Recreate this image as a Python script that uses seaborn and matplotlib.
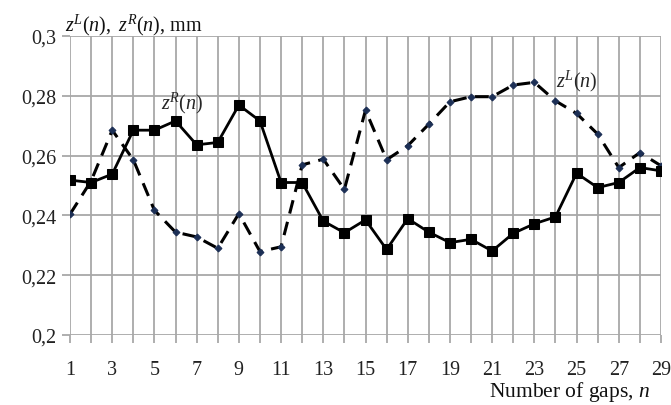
import matplotlib
matplotlib.use("Agg")
import matplotlib.pyplot as plt
import seaborn as sns
import numpy as np
import pandas as pd

n = list(range(1, 30))
z_R = [0.2518, 0.2510, 0.2538, 0.2685, 0.2685, 0.2716, 0.2636, 0.2644, 0.2769, 0.2716,
       0.2510, 0.2510, 0.2381, 0.2342, 0.2385, 0.2286, 0.2389, 0.2344, 0.2309, 0.2320,
       0.2281, 0.2340, 0.2372, 0.2395, 0.2541, 0.2493, 0.2510, 0.2560, 0.2549]
z_L = [0.2404, 0.2515, 0.2685, 0.2586, 0.2417, 0.2344, 0.2328, 0.2290, 0.2406, 0.2279,
       0.2295, 0.2569, 0.2588, 0.2487, 0.2752, 0.2586, 0.2633, 0.2705, 0.2780, 0.2797,
       0.2797, 0.2836, 0.2845, 0.2783, 0.2741, 0.2672, 0.2560, 0.2610, 0.2566]
y_ticks = [0.2, 0.22, 0.24, 0.26, 0.28, 0.3]
y_ticklabels = ["0,2", "0,22", "0,24", "0,26", "0,28", "0,3"]
x_labeled = list(range(1, 30, 2))

sns.set_theme(style="white")
plt.rcParams['font.family'] = ['Liberation Serif', 'DejaVu Serif']
plt.rcParams['mathtext.fontset'] = 'custom'
plt.rcParams['mathtext.rm'] = 'Liberation Serif'
plt.rcParams['mathtext.it'] = 'Liberation Serif:italic'

df = pd.DataFrame({"n": n, "zR": z_R, "zL": z_L})

fig = plt.figure(figsize=(6.71, 4.06), dpi=100)
ax = fig.add_axes([70/671, 70/406, 591/671, 299/406])

sns.lineplot(data=df, x="n", y="zL", ax=ax, color="black", linewidth=2.2,
             linestyle=(0, (4.5, 2.8)), marker="D", markersize=3.5,
             markerfacecolor="#1c2f55", markeredgecolor="#1c2f55", zorder=3)
sns.lineplot(data=df, x="n", y="zR", ax=ax, color="black", linewidth=2.0,
             marker="s", markersize=6.5, markerfacecolor="black",
             markeredgecolor="black", zorder=4)

ax.set_xlim(1, 29)
ax.set_ylim(0.2, 0.3)
ax.set_xticks(n)
ax.set_xticklabels([str(v) if v in x_labeled else "" for v in n])
ax.set_yticks(y_ticks)
ax.set_yticklabels(y_ticklabels)
ax.grid(True, color="#a8a8a8", linewidth=1.3)
ax.set_axisbelow(True)
for s in ax.spines.values():
    s.set_visible(False)
ax.tick_params(axis="both", which="both", direction="out", length=6, width=1.3,
               color="#a8a8a8", labelsize=14.5, labelcolor="#222222", pad=4,
               bottom=True, left=True)
ax.tick_params(axis="x", pad=12)
ax.set_xlabel("")
ax.set_ylabel("")

fig.text(65/671, 1 - 25/406, r"$z^{L}(n),\ z^{R}(n)$, mm", fontsize=14.5,
         ha="left", va="center", color="#111111")
ax.text(6.3, 0.2779, r"$z^{R}(n)$", fontsize=14.5, ha="center", va="center")
ax.text(25.0, 0.2853, r"$z^{L}(n)$", fontsize=14.5, ha="center", va="center")
fig.text(650/671, 1 - 392/406, r"Number of gaps, $n$", fontsize=15.5,
         ha="right", va="center", color="#111111")

fig.savefig("out.png", dpi=100)
